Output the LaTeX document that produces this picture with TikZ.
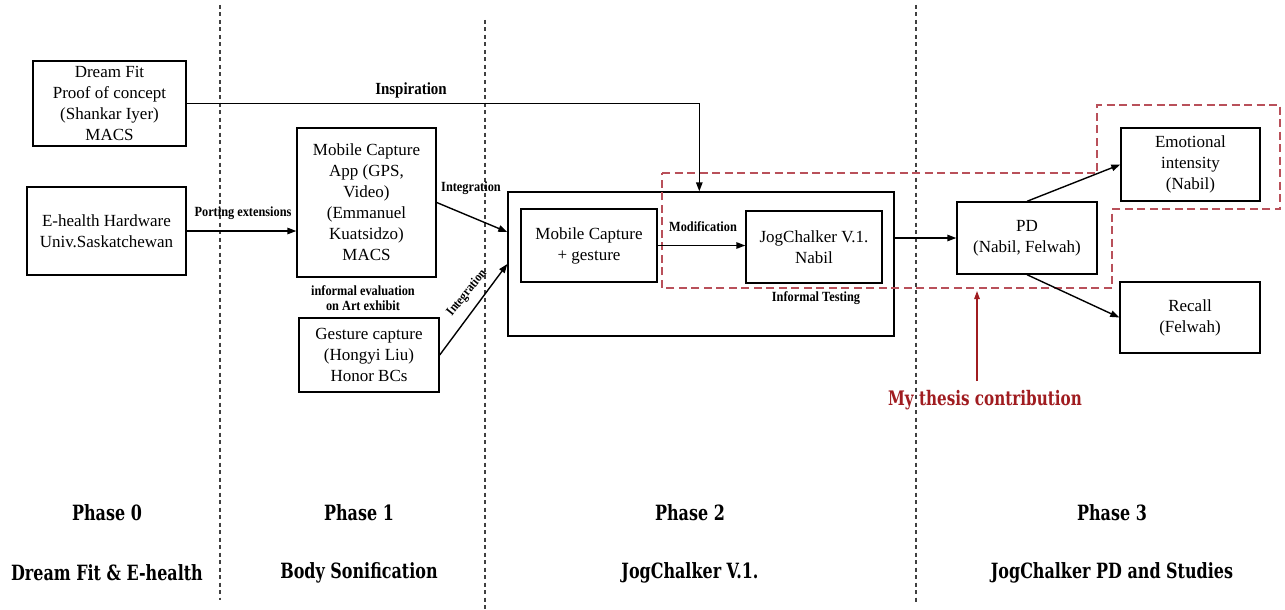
\documentclass[tikz,border=0pt]{standalone}
\usepackage{fontspec}
\setmainfont{Liberation Serif}
\newfontfamily\lblfont{Liberation Serif}[FakeStretch=0.88]
\newfontfamily\phfont{DejaVu Serif}[FakeStretch=0.76]
\usetikzlibrary{arrows.meta}
\definecolor{thesisred}{RGB}{160,28,32}
\definecolor{dashred}{RGB}{185,80,90}
\begin{document}
\begin{tikzpicture}[x=1pt,y=-1pt,
  box/.style={draw, line width=1.4pt, inner sep=0pt, align=center, font=\fontsize{17}{21}\selectfont},
  arr/.style={-{Triangle[length=9pt,width=6.5pt]}, line width=1.4pt},
  lbl/.style={font=\lblfont\bfseries\fontsize{14}{15}\selectfont, inner sep=0pt, align=center},
  phase/.style={font=\phfont\bfseries\fontsize{21}{24}\selectfont, inner sep=0pt},
  vsep/.style={line width=1.3pt, black!75, dash pattern=on 4pt off 3.5pt},
  redbox/.style={draw=dashred, line width=1.4pt, dash pattern=on 8pt off 4.5pt}]
\useasboundingbox[fill=white] (0,0) rectangle (1285,610);

% phase separators
\coordinate (s1a) at (220,5);   \coordinate (s1b) at (220,600);
\coordinate (s2a) at (485,20);  \coordinate (s2b) at (485,610);
\coordinate (s3a) at (916,5);   \coordinate (s3b) at (916,602);
\draw[vsep] (s1a) -- (s1b);
\draw[vsep] (s2a) -- (s2b);
\draw[vsep] (s3a) -- (s3b);

% boxes
\node[box, minimum width=153pt, minimum height=85pt] (dream) at (109.5,103.5) {Dream Fit\\Proof of concept\\(Shankar Iyer)\\MACS};
\node[box, minimum width=159pt, minimum height=88pt] (ehealth) at (106.5,231) {E-health Hardware\\Univ.Saskatchewan};
\node[box, minimum width=139pt, minimum height=149pt] (mca) at (366.5,202.5) {Mobile Capture\\App (GPS,\\Video)\\(Emmanuel\\Kuatsidzo)\\MACS};
\node[box, minimum width=140pt, minimum height=74pt] (gest) at (369,355) {Gesture capture\\(Hongyi Liu)\\Honor BCs};
\node[box, minimum width=386pt, minimum height=144pt] (big) at (701,264) {};
\node[box, minimum width=136pt, minimum height=73pt] (mcg) at (589,245.5) {Mobile Capture\\+ gesture};
\node[box, minimum width=136pt, minimum height=72pt] (jog) at (814,247) {JogChalker V.1.\\Nabil};
\node[box, minimum width=140pt, minimum height=72pt] (pd) at (1027,238) {PD\\(Nabil, Felwah)};
\node[box, minimum width=139pt, minimum height=73pt] (emo) at (1190.5,164.5) {Emotional\\intensity\\(Nabil)};
\node[box, minimum width=140pt, minimum height=71pt] (recall) at (1190,317.5) {Recall\\(Felwah)};

% red dashed region
\draw[redbox] (662,173) -- (1097,173) -- (1097,105) -- (1280,105) -- (1280,209)
  -- (1112,209) -- (1112,288) -- (662,288) -- cycle;

% connectors
\draw[arr] (ehealth.east) -- (ehealth.east -| mca.west);
\draw[arr] (dream.east) -| ([xshift=192pt]big.north west);
\draw[arr] (mca.east) -- ([yshift=32pt]big.west);
\draw[arr] (gest.east) -- (big.west);
\draw[arr] (mcg.east) -- (mcg.east -| jog.west);
\draw[arr] (big.east |- pd.west) -- (pd.west);
\draw[arr] (pd.north) -- (emo.west);
\draw[arr] (pd.south) -- (recall.west);

% labels
\node[lbl, font=\lblfont\bfseries\fontsize{17}{18}\selectfont] (linsp) at (411,90) {Inspiration};
\node[lbl] (lport) at (243,213) {Porting extensions};
\node[lbl] (lint1) at (471,188) {Integration};
\node[lbl, rotate=51, font=\lblfont\bfseries\fontsize{13}{14}\selectfont] (lint2) at (467,293) {Integration};
\node[lbl] (lmod) at (703,227) {Modification};
\node[lbl] (linf) at (816,298) {Informal Testing};
\node[lbl, font=\lblfont\bfseries\fontsize{14}{15.5}\selectfont] (leval) at (363,298) {informal evaluation\\on Art exhibit};

% thesis contribution
\node[phase, text=thesisred, font=\phfont\bfseries\fontsize{20}{24}\selectfont] (thesis) at (985,400) {My thesis contribution};
\coordinate (rs) at (977,381);
\coordinate (re) at (977,291);
\draw[-{Triangle[length=8pt,width=5.5pt]}, line width=1.3pt, thesisred] (rs) -- (re);

% phase labels
\node[phase] (p0) at (107,513) {Phase 0};
\node[phase] (p0t) at (107,573) {Dream Fit \& E-health};
\node[phase] (p1) at (359,513) {Phase 1};
\node[phase] (p1t) at (359,573) {Body Sonification};
\node[phase] (p2) at (690,513) {Phase 2};
\node[phase] (p2t) at (690,573) {JogChalker V.1.};
\node[phase] (p3) at (1112,513) {Phase 3};
\node[phase] (p3t) at (1112,573) {JogChalker PD and Studies};
\end{tikzpicture}
\end{document}
